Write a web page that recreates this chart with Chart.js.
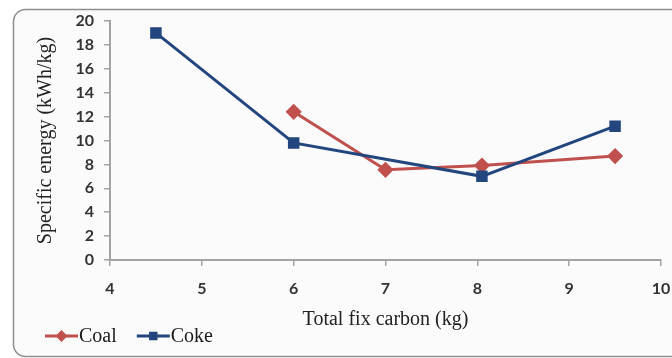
<!DOCTYPE html>
<html>
<head>
<meta charset="utf-8">
<script src="https://cdn.jsdelivr.net/npm/chart.js@4"></script>
<style>
  html, body { margin: 0; padding: 0; background: #ffffff; }
  #wrap { width: 672px; height: 358px; position: relative; }
</style>
</head>
<body>
<div id="wrap"><canvas id="myChart" width="672" height="358"></canvas></div>
<script>
// data
const seriesNames = ['Coal', 'Coke'];
const carbonCoal = [6, 7, 8.05, 9.5];
const energyCoal = [12.4, 7.55, 7.9, 8.7];
const carbonCoke = [4.5, 6, 8.05, 9.5];
const energyCoke = [19, 9.8, 7.0, 11.2];
const xTicks = [4, 5, 6, 7, 8, 9, 10];
const yTicks = [0, 2, 4, 6, 8, 10, 12, 14, 16, 18, 20];

const coalColor = '#c0504d';
const cokeColor = '#23467e';
const axisColor = '#a3a3a3';
const serif = "'Liberation Serif', 'Times New Roman', serif";

function toPoints(xs, ys) {
    return xs.map((x, i) => ({ x: x, y: ys[i] }));
}

// rounded frame behind the chart
const framePlugin = {
    id: 'frame',
    beforeDraw(chart) {
        const ctx = chart.ctx;
        ctx.save();
        ctx.beginPath();
        ctx.roundRect(13.5, 9.5, 680, 347, 12);
        ctx.fillStyle = '#fbfbfb';
        ctx.fill();
        ctx.lineWidth = 1.5;
        ctx.strokeStyle = '#8e8e8e';
        ctx.stroke();
        ctx.restore();
    }
};

// legend drawn as line + marker + name, like the office chart
const lineLegend = {
    id: 'lineLegend',
    afterDraw(chart) {
        const ctx = chart.ctx;
        const y = 336;
        let x = 45;
        ctx.save();
        ctx.font = '20px ' + serif;
        ctx.textBaseline = 'middle';
        ctx.textAlign = 'left';
        seriesNames.forEach(name => {
            const ds = chart.data.datasets.find(d => d.label === name);
            ctx.strokeStyle = ds.borderColor;
            ctx.lineWidth = 3;
            ctx.beginPath();
            ctx.moveTo(x, y);
            ctx.lineTo(x + 33, y);
            ctx.stroke();
            ctx.fillStyle = ds.pointBackgroundColor;
            Chart.helpers.drawPoint(ctx, {
                pointStyle: ds.pointStyle,
                radius: ds.pointRadius,
                borderWidth: 0,
                rotation: 0
            }, x + 16.5, y);
            ctx.fillStyle = '#1a1a1a';
            ctx.fillText(name, x + 34, y + 1);
            x += 34 + ctx.measureText(name).width + 20;
        });
        ctx.restore();
    }
};

const ctx = document.getElementById('myChart').getContext('2d');
const myChart = new Chart(ctx, {
    type: 'line',
    data: {
        datasets: [{
            label: seriesNames[0],
            data: toPoints(carbonCoal, energyCoal),
            borderColor: coalColor,
            backgroundColor: coalColor,
            pointBackgroundColor: coalColor,
            pointBorderColor: coalColor,
            pointStyle: 'rectRot',
            pointRadius: 6,
            borderWidth: 3,
            order: 1
        }, {
            label: seriesNames[1],
            data: toPoints(carbonCoke, energyCoke),
            borderColor: cokeColor,
            backgroundColor: cokeColor,
            pointBackgroundColor: cokeColor,
            pointBorderColor: cokeColor,
            pointStyle: 'rect',
            pointRadius: 6,
            borderWidth: 3,
            order: 0
        }]
    },
    options: {
        responsive: false,
        animation: false,
        layout: {
            padding: { left: 0, right: 11, top: 21, bottom: 0 }
        },
        plugins: {
            legend: { display: false },
            tooltip: { enabled: false }
        },
        scales: {
            x: {
                type: 'linear',
                min: xTicks[0],
                max: xTicks[xTicks.length - 1],
                afterBuildTicks: function(scale) {
                    scale.ticks = xTicks.map(v => ({ value: v }));
                },
                afterFit: function(scale) {
                    scale.height = 98;
                    scale.paddingLeft = 0;
                    scale.paddingRight = 0;
                },
                grid: {
                    drawOnChartArea: false,
                    drawTicks: true,
                    tickLength: 6,
                    color: axisColor,
                    lineWidth: 1.5
                },
                border: { color: axisColor, width: 2 },
                ticks: {
                    padding: 13,
                    color: '#333333',
                    font: { family: 'Lato', size: 16, weight: 'bold' }
                },
                title: {
                    display: true,
                    text: 'Total fix carbon (kg)',
                    color: '#222222',
                    font: { family: serif, size: 20 },
                    padding: { top: 0, bottom: 26 }
                }
            },
            y: {
                type: 'linear',
                min: yTicks[0],
                max: yTicks[yTicks.length - 1],
                afterBuildTicks: function(scale) {
                    scale.ticks = yTicks.map(v => ({ value: v }));
                },
                afterFit: function(scale) {
                    scale.width = 110;
                },
                grid: {
                    drawOnChartArea: false,
                    drawTicks: true,
                    tickLength: 6,
                    color: axisColor,
                    lineWidth: 1.5
                },
                border: { color: axisColor, width: 2 },
                ticks: {
                    padding: 10,
                    color: '#333333',
                    font: { family: 'Lato', size: 16, weight: 'bold' }
                },
                title: {
                    display: true,
                    text: 'Specific energy (kWh/kg)',
                    color: '#222222',
                    font: { family: serif, size: 20 },
                    padding: { top: 34, bottom: 0 }
                }
            }
        }
    },
    plugins: [framePlugin, lineLegend]
});
</script>
</body>
</html>
